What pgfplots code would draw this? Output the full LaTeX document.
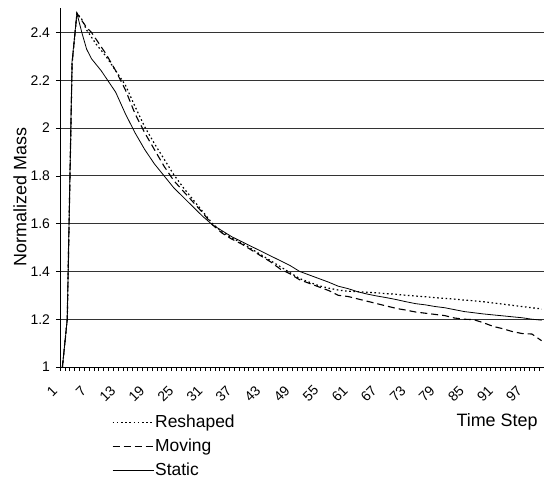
\documentclass[border=0pt]{standalone}
\usepackage{pgfplots}
\pgfplotsset{compat=1.18}
\usepackage{fontspec}
\setmainfont{Liberation Sans}
\begin{document}
\begin{tikzpicture}
\useasboundingbox (-60bp,-112bp) rectangle (484bp,367bp);
\begin{axis}[
  at={(0,0)}, anchor=south west,
  scale only axis,
  width=484bp, height=358.5bp,
  xmin=0.5, xmax=100.5,
  ymin=1, ymax=2.5,
  axis x line=bottom, axis y line=left,
  axis line style={-, line width=0.8bp, black},
  xtick={1,7,...,97},
  minor xtick={0.5,1.5,...,100.5},
  major x tick style={draw=none},
  minor tick length=4bp,
  major tick length=4bp,
  tick align=outside,
  tick style={black, line width=0.6bp},
  ytick={1,1.2,1.4,1.6,1.8,2,2.2,2.4},
  yticklabels={1,1.2,1.4,1.6,1.8,2,2.2,2.4},
  ymajorgrids,
  major grid style={black!80, line width=0.8bp},
  /pgf/number format/assume math mode=true,
  tick label style={font=\fontsize{14}{16}\selectfont},
  yticklabel style={xshift=-2.5bp},
  xticklabel style={xshift=-7.5bp, yshift=-17bp, rotate=45, anchor=east, inner sep=0pt},
  xlabel={Time Step},
  xlabel style={at={(axis description cs:0.903,-0.153)}, anchor=center, font=\fontsize{18}{20}\selectfont},
  ylabel={Normalized Mass},
  ylabel style={at={(axis description cs:-0.0826,0.474)}, anchor=center, font=\fontsize{18}{20}\selectfont},
  legend style={at={(axis description cs:0.107,-0.128)}, anchor=north west, draw=none, fill=none,
    font=\fontsize{17.5}{20}\selectfont, row sep=5bp, inner sep=0pt,
    nodes={inner sep=1bp, text height=13bp, text depth=4bp}},
  legend cell align=left,
  legend image code/.code={\draw[#1] (0bp,0bp) -- (41bp,0bp);},
  clip=false,
]
\addplot[black, line width=1.2bp, dash pattern=on 1.6bp off 2.6bp] coordinates {
(1,1.00) (2,1.20) (3,2.27) (4,2.48) (5,2.455) (6,2.41) (7,2.38) (8,2.35) (10,2.30) (12,2.24)
(14,2.18) (16,2.09) (18,2.005) (20,1.935) (22,1.87) (24,1.805) (26,1.75) (28,1.70) (30,1.65)
(32,1.60) (34,1.565) (36,1.54) (38,1.52) (40,1.495) (42,1.47) (44,1.445) (46,1.42) (48,1.395)
(50,1.37) (52,1.355) (54,1.34) (56,1.33) (58,1.322) (60,1.317) (62,1.315) (64,1.313) (66,1.31)
(68,1.307) (70,1.304) (72,1.30) (74,1.297) (76,1.294) (78,1.29) (80,1.287) (82,1.284) (84,1.28)
(86,1.277) (88,1.273) (90,1.268) (92,1.263) (94,1.258) (96,1.253) (98,1.248) (100,1.243)
};
\addlegendentry{Reshaped}
\addplot[black, line width=1.1bp, dash pattern=on 7bp off 4bp] coordinates {
(1,1.00) (2,1.20) (3,2.27) (4,2.48) (5,2.45) (6,2.42) (7,2.40) (8,2.37) (10,2.31) (12,2.24)
(14,2.16) (16,2.06) (18,1.98) (20,1.91) (22,1.84) (24,1.78) (26,1.735) (28,1.69) (30,1.645)
(32,1.595) (34,1.56) (36,1.535) (38,1.515) (40,1.49) (42,1.465) (44,1.44) (46,1.41) (48,1.39)
(50,1.365) (52,1.35) (54,1.335) (56,1.32) (58,1.30) (60,1.295) (62,1.285) (64,1.275) (66,1.265)
(68,1.255) (70,1.245) (72,1.238) (74,1.23) (76,1.225) (78,1.22) (80,1.215) (82,1.205) (84,1.20)
(86,1.198) (88,1.185) (90,1.17) (92,1.16) (94,1.148) (96,1.14) (98,1.138) (100,1.11)
};
\addlegendentry{Moving}
\addplot[black, line width=0.8bp] coordinates {
(1,1.00) (2,1.20) (3,2.28) (4,2.48) (5,2.40) (6,2.33) (7,2.29) (8,2.265) (9,2.24) (10,2.21)
(12,2.15) (14,2.06) (16,1.98) (18,1.91) (20,1.85) (22,1.80) (24,1.75) (26,1.71) (28,1.67)
(30,1.63) (32,1.595) (34,1.57) (36,1.545) (38,1.525) (40,1.505) (42,1.485) (44,1.465) (46,1.445)
(48,1.425) (50,1.40) (52,1.385) (54,1.37) (56,1.355) (58,1.338) (60,1.328) (62,1.315) (64,1.305)
(66,1.297) (68,1.29) (70,1.282) (72,1.273) (74,1.265) (76,1.26) (78,1.253) (80,1.248) (82,1.24)
(84,1.232) (86,1.227) (88,1.222) (90,1.218) (92,1.214) (94,1.21) (96,1.206) (98,1.20) (100,1.196)
};
\addlegendentry{Static}
\end{axis}
\end{tikzpicture}
\end{document}
